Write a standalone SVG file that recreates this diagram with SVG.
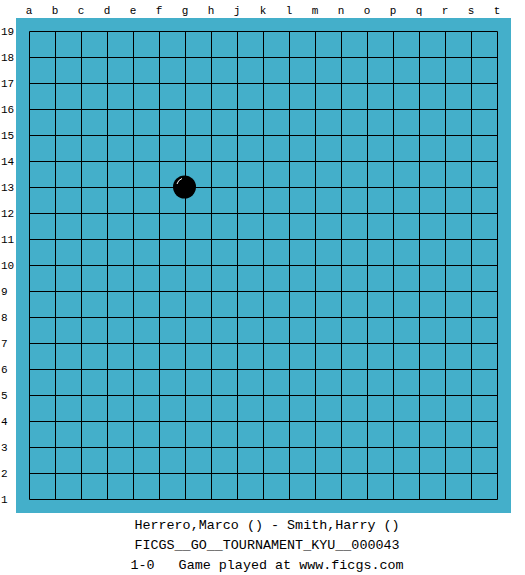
<svg xmlns="http://www.w3.org/2000/svg" width="525" height="575" viewBox="0 0 525 575">
<defs>
<style>
.lbl{font-family:"Liberation Mono","DejaVu Sans Mono",monospace;font-size:11px;fill:#000}
.col{text-anchor:middle}
.info{font-family:"Liberation Mono","DejaVu Sans Mono",monospace;font-size:13.4px;fill:#000;text-anchor:middle}
.grid line{stroke:#000;stroke-width:1}
</style>
</defs>
<rect width="525" height="575" fill="#fff"/>
<g id="board">
<rect x="16" y="18" width="495" height="495" fill="#44AFCA"/>
</g>
<g id="grid" class="grid">
<line x1="29.5" y1="31.5" x2="497.5" y2="31.5"/><line x1="29.5" y1="57.5" x2="497.5" y2="57.5"/><line x1="29.5" y1="83.5" x2="497.5" y2="83.5"/><line x1="29.5" y1="109.5" x2="497.5" y2="109.5"/><line x1="29.5" y1="135.5" x2="497.5" y2="135.5"/><line x1="29.5" y1="161.5" x2="497.5" y2="161.5"/><line x1="29.5" y1="187.5" x2="497.5" y2="187.5"/><line x1="29.5" y1="213.5" x2="497.5" y2="213.5"/><line x1="29.5" y1="239.5" x2="497.5" y2="239.5"/><line x1="29.5" y1="265.5" x2="497.5" y2="265.5"/><line x1="29.5" y1="291.5" x2="497.5" y2="291.5"/><line x1="29.5" y1="317.5" x2="497.5" y2="317.5"/><line x1="29.5" y1="343.5" x2="497.5" y2="343.5"/><line x1="29.5" y1="369.5" x2="497.5" y2="369.5"/><line x1="29.5" y1="395.5" x2="497.5" y2="395.5"/><line x1="29.5" y1="421.5" x2="497.5" y2="421.5"/><line x1="29.5" y1="447.5" x2="497.5" y2="447.5"/><line x1="29.5" y1="473.5" x2="497.5" y2="473.5"/><line x1="29.5" y1="499.5" x2="497.5" y2="499.5"/>
<line x1="29.5" y1="31.5" x2="29.5" y2="499.5"/><line x1="55.5" y1="31.5" x2="55.5" y2="499.5"/><line x1="81.5" y1="31.5" x2="81.5" y2="499.5"/><line x1="107.5" y1="31.5" x2="107.5" y2="499.5"/><line x1="133.5" y1="31.5" x2="133.5" y2="499.5"/><line x1="159.5" y1="31.5" x2="159.5" y2="499.5"/><line x1="185.5" y1="31.5" x2="185.5" y2="499.5"/><line x1="211.5" y1="31.5" x2="211.5" y2="499.5"/><line x1="237.5" y1="31.5" x2="237.5" y2="499.5"/><line x1="263.5" y1="31.5" x2="263.5" y2="499.5"/><line x1="289.5" y1="31.5" x2="289.5" y2="499.5"/><line x1="315.5" y1="31.5" x2="315.5" y2="499.5"/><line x1="341.5" y1="31.5" x2="341.5" y2="499.5"/><line x1="367.5" y1="31.5" x2="367.5" y2="499.5"/><line x1="393.5" y1="31.5" x2="393.5" y2="499.5"/><line x1="419.5" y1="31.5" x2="419.5" y2="499.5"/><line x1="445.5" y1="31.5" x2="445.5" y2="499.5"/><line x1="471.5" y1="31.5" x2="471.5" y2="499.5"/><line x1="497.5" y1="31.5" x2="497.5" y2="499.5"/>
</g>
<g id="col-labels" class="lbl col">
<text x="29" y="14">a</text><text x="55" y="14">b</text><text x="81" y="14">c</text><text x="107" y="14">d</text><text x="133" y="14">e</text><text x="159" y="14">f</text><text x="185" y="14">g</text><text x="211" y="14">h</text><text x="237" y="14">j</text><text x="263" y="14">k</text><text x="289" y="14">l</text><text x="315" y="14">m</text><text x="341" y="14">n</text><text x="367" y="14">o</text><text x="393" y="14">p</text><text x="419" y="14">q</text><text x="445" y="14">r</text><text x="471" y="14">s</text><text x="497" y="14">t</text>
</g>
<g id="row-labels" class="lbl">
<text x="1" y="35">19</text><text x="1" y="61">18</text><text x="1" y="87">17</text><text x="1" y="113">16</text><text x="1" y="139">15</text><text x="1" y="165">14</text><text x="1" y="191">13</text><text x="1" y="217">12</text><text x="1" y="243">11</text><text x="1" y="269">10</text><text x="1" y="295">9</text><text x="1" y="321">8</text><text x="1" y="347">7</text><text x="1" y="373">6</text><text x="1" y="399">5</text><text x="1" y="425">4</text><text x="1" y="451">3</text><text x="1" y="477">2</text><text x="1" y="503">1</text>
</g>
<g id="stone-g13">
<circle cx="184.5" cy="187" r="11.5" fill="#000"/>
<path d="M177 184 A8 8 0 0 1 182 178.5" stroke="#fff" stroke-width="1" fill="none"/>
</g>
<g id="info">
<text class="info" x="267" y="529">Herrero,Marco () - Smith,Harry ()</text>
<text class="info" x="267" y="549">FICGS__GO__TOURNAMENT_KYU__000043</text>
<text class="info" x="267" y="569" xml:space="preserve">1-0   Game played at www.ficgs.com</text>
</g>
</svg>
